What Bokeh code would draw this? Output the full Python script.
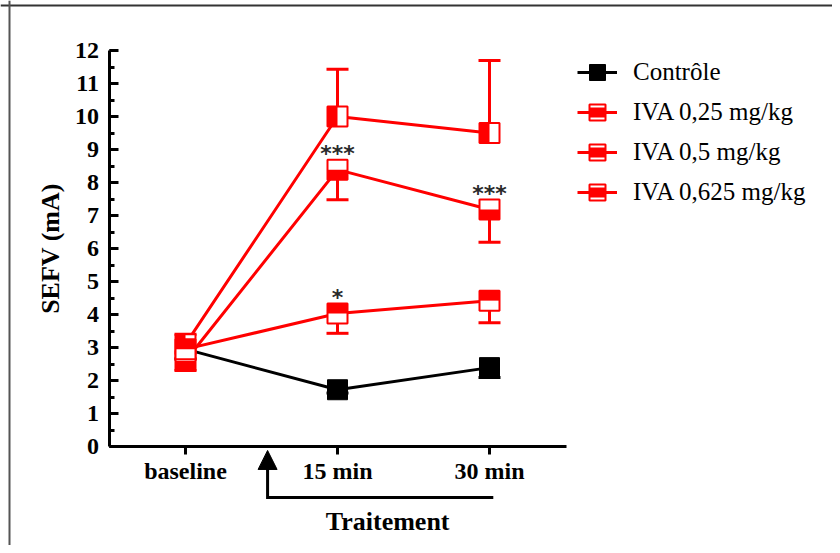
import math
from bokeh.plotting import figure
from bokeh.models import (Range1d, FixedTicker, SingleIntervalTicker, Whisker, TeeHead,
                          Arrow, NormalHead, Label, Span, Legend, LegendItem, ColumnDataSource)
from bokeh.core.properties import value
from bokeh.embed import file_html
from bokeh.resources import INLINE

# ---------------- data ----------------
categories = ["baseline", "15 min", "30 min"]
series_names = ["Contrôle", "IVA 0,25 mg/kg", "IVA 0,5 mg/kg", "IVA 0,625 mg/kg"]

controle = [2.95, 1.72, 2.39]
controle_err = [0.3, 0.1, 0.3]          # drawn downwards

iva_025 = [2.95, 4.03, 4.42]
iva_025_err = [0.3, 0.60, 0.67]         # drawn downwards

iva_05 = [2.6, 8.39, 7.18]
iva_05_err = [0.3, 0.91, 0.99]          # drawn downwards

iva_0625 = [3.1, 10.0, 9.5]
iva_0625_err = [0.3, 1.43, 2.2]         # drawn upwards

sig_025 = ["", "*", ""]
sig_05 = ["", "***", "***"]

y_label = "SEFV (mA)"
x_label = "Traitement"

# ---------------- layout ----------------
W, H = 832, 545
PX_X, PX_Y = 152.0, 33.0          # pixels per data unit
X0_PX, Y0_PX = 185.0, 446.0       # canvas pixel of x=0 / y=0
x_start = -X0_PX / PX_X
x_end = x_start + W / PX_X
y_start = -(H - Y0_PX) / PX_Y
y_end = Y0_PX / PX_Y

YAXIS_X = -0.497
XAXIS_END = 2.507
HALF_PX = 5.0
MSIZE = 20

FONT = "Liberation Serif"
RED = "#ff0000"

p = figure(width=W, height=H, x_range=Range1d(x_start, x_end), y_range=Range1d(y_start, y_end),
           output_backend="svg", toolbar_location=None, min_border=0,
           background_fill_color="white", border_fill_color="white")
p.outline_line_color = None
p.xgrid.visible = False
p.ygrid.visible = False

xs = list(range(len(categories)))

# ---------------- axes ----------------
xa = p.xaxis[0]
xa.fixed_location = 0
xa.bounds = (YAXIS_X, XAXIS_END)
xa.ticker = FixedTicker(ticks=xs)
xa.major_label_overrides = {i: c for i, c in zip(xs, categories)}
xa.minor_tick_line_color = None
xa.major_tick_in = 0
xa.major_tick_out = 8
xa.axis_line_width = 3
xa.major_tick_line_width = 3
xa.axis_line_color = "black"
xa.major_tick_line_color = "black"
xa.major_label_text_font = FONT
xa.major_label_text_font_style = "bold"
xa.major_label_text_font_size = "24px"
xa.major_label_text_color = "black"
xa.major_label_standoff = 3

ya = p.yaxis[0]
ya.fixed_location = YAXIS_X
ya.bounds = (0, 12)
ya.ticker = SingleIntervalTicker(interval=1, num_minor_ticks=2)
ya.major_tick_in = 9
ya.major_tick_out = 0
ya.minor_tick_in = 5
ya.minor_tick_out = 0
ya.axis_line_width = 3
ya.major_tick_line_width = 3
ya.minor_tick_line_width = 3
ya.axis_line_color = "black"
ya.major_tick_line_color = "black"
ya.minor_tick_line_color = "black"
ya.major_label_text_font = FONT
ya.major_label_text_font_style = "bold"
ya.major_label_text_font_size = "24px"
ya.major_label_text_color = "black"
ya.major_label_standoff = 11
ya.axis_label = y_label
ya.axis_label_text_font = FONT
ya.axis_label_text_font_style = "bold"
ya.axis_label_text_font_size = "26px"
ya.axis_label_text_color = "black"
ya.axis_label_standoff = 7

# ---------------- frame border (top / left) ----------------
p.add_layout(Span(location=y_end - 5.0 / PX_Y, dimension="width", line_color="#333333", line_width=2))
p.add_layout(Span(location=x_start + 9.0 / PX_X, dimension="height", line_color="#555555", line_width=2))


def whisker(vals, errs, color, up):
    if up:
        src = ColumnDataSource(dict(x=xs, lo=vals, hi=[v + e for v, e in zip(vals, errs)]))
        w = Whisker(source=src, base="x", lower="lo", upper="hi", line_color=color, line_width=3,
                    upper_head=TeeHead(size=22, line_color=color, line_width=3), lower_head=None)
    else:
        src = ColumnDataSource(dict(x=xs, hi=vals, lo=[v - e for v, e in zip(vals, errs)]))
        w = Whisker(source=src, base="x", lower="lo", upper="hi", line_color=color, line_width=3,
                    lower_head=TeeHead(size=22, line_color=color, line_width=3), upper_head=None)
    p.add_layout(w)


# ---------------- Contrôle ----------------
whisker(controle, controle_err, "black", up=False)
c_line = p.line(xs, controle, line_color="black", line_width=3)
c_sq = p.scatter(xs, controle, marker="square", size=MSIZE, fill_color="black", line_color="black", line_width=1)

# ---------------- IVA series ----------------
dy = HALF_PX / PX_Y
dx = HALF_PX / PX_X

whisker(iva_025, iva_025_err, RED, up=False)
whisker(iva_05, iva_05_err, RED, up=False)
whisker(iva_0625, iva_0625_err, RED, up=True)

l025 = p.line(xs, iva_025, line_color=RED, line_width=3)
l05 = p.line(xs, iva_05, line_color=RED, line_width=3)
l0625 = p.line(xs, iva_0625, line_color=RED, line_width=3)

# IVA 0,625 : left half filled
s0625 = p.scatter(xs, iva_0625, marker="square", size=MSIZE, fill_color="white", line_color=RED, line_width=2)
h0625 = p.scatter([x - dx for x in xs], iva_0625, marker="dash", size=MSIZE, angle=math.pi / 2,
                  line_color=RED, line_width=10)
# IVA 0,5 : bottom half filled
s05 = p.scatter(xs, iva_05, marker="square", size=MSIZE, fill_color="white", line_color=RED, line_width=2)
h05 = p.scatter(xs, [v - dy for v in iva_05], marker="dash", size=MSIZE, line_color=RED, line_width=10)
# IVA 0,25 : top half filled
s025 = p.scatter(xs, iva_025, marker="square", size=MSIZE, fill_color="white", line_color=RED, line_width=2)
h025 = p.scatter(xs, [v + dy for v in iva_025], marker="dash", size=MSIZE, line_color=RED, line_width=10)

# significance stars
p.text(xs, iva_025, text=sig_025, text_align="center", text_baseline="middle", y_offset=-16,
       text_font=value("DejaVu Sans"), text_font_size="22px", text_font_style="bold", text_color="#2a2a2a")
p.text(xs, iva_05, text=sig_05, text_align="center", text_baseline="middle", y_offset=-16,
       text_font=value("DejaVu Sans"), text_font_size="22px", text_font_style="bold", text_color="#2a2a2a")

# ---------------- treatment bracket ----------------
ARROW_X = 0.54
ARROW_TIP_Y = -0.12
BRACKET_Y = -1.545
BRACKET_END_X = 2.025
p.line([ARROW_X, ARROW_X, BRACKET_END_X], [ARROW_TIP_Y - 0.5, BRACKET_Y, BRACKET_Y],
       line_color="black", line_width=3, line_join="miter")
p.add_layout(Arrow(end=NormalHead(size=19, fill_color="black", line_color="black", line_width=1),
                   x_start=ARROW_X, y_start=ARROW_TIP_Y - 0.6, x_end=ARROW_X, y_end=ARROW_TIP_Y,
                   line_color="black", line_width=3))
p.add_layout(Label(x=1.33, y=-2.27, text=x_label, text_align="center", text_baseline="alphabetic",
                   text_font=FONT, text_font_style="bold", text_font_size="26px", text_color="black"))

# ---------------- legend ----------------
legend = Legend(items=[
    LegendItem(label=series_names[0], renderers=[c_line, c_sq]),
    LegendItem(label=series_names[1], renderers=[l025, s025, h025]),
    LegendItem(label=series_names[2], renderers=[l05, s05, h05]),
    LegendItem(label=series_names[3], renderers=[l0625, s0625, h0625]),
], location=(577, 333), glyph_width=40, glyph_height=40, spacing=0, padding=0, margin=0,
    label_standoff=16, border_line_color=None, background_fill_alpha=0,
    label_text_font=FONT, label_text_font_size="25px", label_text_baseline="middle",
    label_text_color="black")
p.add_layout(legend)

open("out.html", "w").write(file_html(p, INLINE))
